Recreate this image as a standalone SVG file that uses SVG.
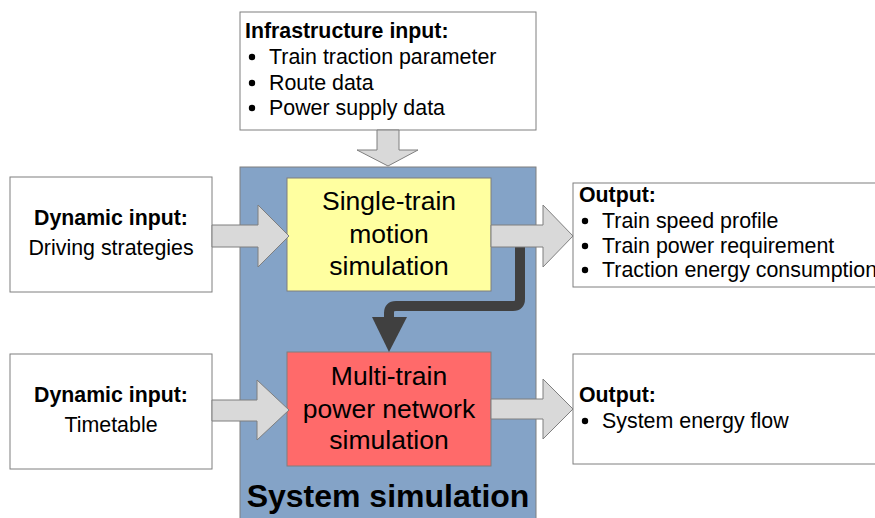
<svg xmlns="http://www.w3.org/2000/svg" width="875" height="518" viewBox="0 0 875 518">
<style>
text{font-family:"Liberation Sans",Arial,sans-serif;fill:#000}
.box{fill:#fff;stroke:#7f7f7f;stroke-width:1}
.t{font-size:21.4px}
.b{font-size:21.3px;font-weight:bold}
.c{text-anchor:middle}
.big{font-size:26.5px;text-anchor:middle}
.garrow{fill:#d9d9d9;stroke:#7f7f7f;stroke-width:1;stroke-linejoin:miter}
</style>
<rect width="875" height="518" fill="#fff"/>
<g id="system">
<rect x="240" y="167" width="296" height="360" fill="#84a3c7" stroke="#7f7f7f" stroke-width="1"/>
<text x="388" y="507" font-size="32" font-weight="bold" text-anchor="middle">System simulation</text>
</g>
<g id="infrastructure">
<rect class="box" x="240" y="12" width="296" height="118"/>
<text class="b" x="245" y="38">Infrastructure input:</text>
<circle cx="252" cy="57" r="3.2"/><text class="t" x="269" y="64">Train traction parameter</text>
<circle cx="252" cy="83" r="3.2"/><text class="t" x="269" y="90">Route data</text>
<circle cx="252" cy="108" r="3.2"/><text class="t" x="269" y="115">Power supply data</text>
</g>
<g id="single-train">
<rect x="287" y="178" width="204" height="113" fill="#ffffa0" stroke="#7f7f7f" stroke-width="1"/>
<text class="big" x="389" y="210">Single-train</text>
<text class="big" x="389" y="243">motion</text>
<text class="big" x="389" y="275">simulation</text>
</g>
<g id="multi-train">
<rect x="287" y="352" width="204" height="114" fill="#ff6a6a" stroke="#7f7f7f" stroke-width="1"/>
<text class="big" x="389" y="385">Multi-train</text>
<text class="big" x="389" y="418">power network</text>
<text class="big" x="389" y="449">simulation</text>
</g>
<g id="dyn-driving">
<rect class="box" x="10" y="177" width="202" height="115"/>
<text class="b c" x="111" y="225">Dynamic input:</text>
<text class="t c" x="111" y="255">Driving strategies</text>
</g>
<g id="dyn-timetable">
<rect class="box" x="10" y="354" width="202" height="115"/>
<text class="b c" x="111" y="402">Dynamic input:</text>
<text class="t c" x="111" y="432">Timetable</text>
</g>
<g id="output1">
<rect class="box" x="573" y="183" width="320" height="104"/>
<text class="b" x="579" y="202">Output:</text>
<circle cx="585" cy="221" r="3.2"/><text class="t" x="602" y="228">Train speed profile</text>
<circle cx="585" cy="246" r="3.2"/><text class="t" x="602" y="253">Train power requirement</text>
<circle cx="585" cy="270" r="3.2"/><text class="t" x="602" y="277">Traction energy consumption</text>
</g>
<g id="output2">
<rect class="box" x="573" y="354" width="320" height="110"/>
<text class="b" x="579" y="402">Output:</text>
<circle cx="585" cy="421" r="3.2"/><text class="t" x="602" y="428">System energy flow</text>
</g>
<g id="connectors">
<path d="M520,245 V299 Q520,306 513,306 H396 Q389,306 389,313 V319" fill="none" stroke="#404040" stroke-width="10"/>
<polygon points="372,317 407,317 389,352" fill="#404040"/>
<polygon class="garrow" points="377,130 399,130 399,150 418,150 388,166 357,150 377,150"/>
<polygon class="garrow" points="212,225 258,225 258,205 289,236 258,267 258,247 212,247"/>
<polygon class="garrow" points="212,400 257,400 257,380 289,410 257,440 257,421 212,421"/>
<polygon class="garrow" points="491,225 543,225 543,205 573,236 543,267 543,247 491,247"/>
<polygon class="garrow" points="491,399 543,399 543,379 573,409 543,439 543,419 491,419"/>
</g>
</svg>
